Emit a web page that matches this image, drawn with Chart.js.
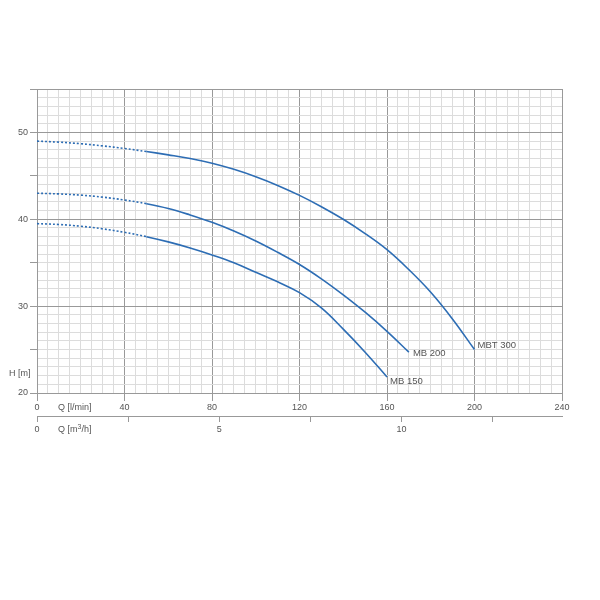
<!DOCTYPE html>
<html>
<head>
<meta charset="utf-8">
<script src="https://cdn.jsdelivr.net/npm/chart.js@4/dist/chart.umd.min.js"></script>
<style>
  html, body { margin: 0; padding: 0; background: #fff; }
  canvas { display: block; }
</style>
</head>
<body>
<canvas id="pumpChart" width="600" height="600"></canvas>
<script>
// pump curves, Q in l/min, H in m
const curveNames = ['MBT 300', 'MB 200', 'MB 150'];

const flowMBT300 = [0, 10, 20, 30, 40, 50, 60, 70, 80, 90, 100, 110, 120, 130, 140, 150, 160, 170, 180, 190, 200];
const headMBT300 = [49.0, 48.88, 48.7, 48.45, 48.15, 47.8, 47.42, 47.0, 46.45, 45.75, 44.9, 43.9, 42.75, 41.45, 40.0, 38.35, 36.5, 34.2, 31.6, 28.5, 25.0];

const flowMB200 = [0, 10, 20, 30, 40, 50, 60, 70, 80, 90, 100, 110, 120, 130, 140, 150, 160, 170];
const headMB200 = [43.0, 42.92, 42.78, 42.55, 42.22, 41.8, 41.25, 40.5, 39.65, 38.65, 37.5, 36.2, 34.8, 33.15, 31.3, 29.3, 27.1, 24.7];

const flowMB150 = [0, 10, 20, 30, 40, 50, 60, 70, 80, 90, 100, 110, 120, 130, 140, 150, 160];
const headMB150 = [39.5, 39.4, 39.2, 38.9, 38.5, 38.0, 37.4, 36.7, 35.9, 35.0, 33.9, 32.8, 31.55, 29.8, 27.35, 24.7, 21.85];

const dottedUntil = 50; // curves are dotted below this flow

// axes
const flowMin = 0, flowMax = 240, flowStep = 5, flowMajor = 40;
const headMin = 20, headMax = 55, headStep = 1, headMajor = 10, headTick = 5;
const m3hMax = flowMax * 60 / 1000, m3hStep = 2.5, m3hLabelEvery = 5;

const flows = [flowMBT300, flowMB200, flowMB150];
const heads = [headMBT300, headMB200, headMB150];

const lineBlue = '#2d6db4';
const majorGrid = '#999';
const minorGrid = '#dcdcdc';
const textGrey = '#555';
const clear = 'rgba(0,0,0,0)';
const fontFamily = '"Liberation Sans", Arial, sans-serif';

// where each name sits next to the end of its curve
const labelOffsets = [[3, -4], [4, 1], [3, 4]];

Chart.defaults.font.family = fontFamily;
Chart.defaults.font.size = 9;
Chart.defaults.color = textGrey;

const datasets = curveNames.map((name, i) => ({
  label: name,
  data: flows[i].map((q, j) => ({ x: q, y: heads[i][j] })),
  borderColor: lineBlue,
  borderWidth: 1.6,
  pointRadius: 0,
  fill: false,
  tension: 0.4,
  segment: {
    borderDash: ctx => ctx.p0.parsed.x < dottedUntil ? [2, 2] : undefined
  }
}));

const captions = {
  id: 'captions',
  afterDraw(chart) {
    const { ctx, scales: { x, x2, y } } = chart;
    ctx.save();
    ctx.fillStyle = textGrey;
    ctx.textBaseline = 'middle';
    ctx.font = '9px ' + fontFamily;

    ctx.fillText('H [m]', 9, y.getPixelForValue(22.2));
    ctx.fillText('Q [l/min]', x.left + 21, x.top + 14.5);

    let qx = x.left + 21, qy = x2.top + 14;
    ctx.fillText('Q [m', qx, qy);
    qx += ctx.measureText('Q [m').width;
    ctx.font = '7px ' + fontFamily;
    ctx.fillText('3', qx, qy - 3);
    qx += ctx.measureText('3').width;
    ctx.font = '9px ' + fontFamily;
    ctx.fillText('/h]', qx, qy);

    ctx.font = '9.5px ' + fontFamily;
    chart.data.datasets.forEach((ds, i) => {
      const pts = chart.getDatasetMeta(i).data;
      const end = pts[pts.length - 1];
      ctx.fillText(ds.label, end.x + labelOffsets[i][0], end.y + labelOffsets[i][1]);
    });
    ctx.restore();
  }
};

new Chart(document.getElementById('pumpChart'), {
  type: 'line',
  data: { datasets },
  plugins: [captions],
  options: {
    responsive: false,
    animation: false,
    layout: { padding: { top: 89, right: 38, bottom: 160, left: 0 } },
    plugins: { legend: { display: false }, tooltip: { enabled: false } },
    scales: {
      x: {
        type: 'linear',
        position: 'bottom',
        min: flowMin,
        max: flowMax,
        afterFit: s => { s.height = 23; },
        border: { display: true, color: majorGrid },
        grid: {
          color: c => (c.tick.value % flowMajor === 0 || c.tick.value === flowMax) ? majorGrid : minorGrid,
          tickColor: c => c.tick.value % flowMajor === 0 ? majorGrid : clear,
          tickLength: 8
        },
        ticks: {
          stepSize: flowStep,
          maxTicksLimit: 200,
          autoSkip: false,
          maxRotation: 0,
          includeBounds: false,
          padding: 1,
          callback: v => v % flowMajor === 0 ? v : ''
        }
      },
      x2: {
        type: 'linear',
        position: 'bottom',
        min: 0,
        max: m3hMax,
        afterFit: s => { s.height = 24; },
        border: { display: true, color: majorGrid },
        grid: { drawOnChartArea: false, color: majorGrid, tickLength: 6 },
        ticks: {
          stepSize: m3hStep,
          maxTicksLimit: 200,
          autoSkip: false,
          maxRotation: 0,
          includeBounds: false,
          padding: 2,
          callback: v => v % m3hLabelEvery === 0 ? v : ''
        }
      },
      y: {
        type: 'linear',
        min: headMin,
        max: headMax,
        afterFit: s => { s.width = 37; },
        border: { display: true, color: majorGrid },
        grid: {
          color: c => (c.tick.value % headMajor === 0 || c.tick.value === headMax) ? majorGrid : minorGrid,
          tickColor: c => c.tick.value % headTick === 0 ? majorGrid : clear,
          tickLength: 7
        },
        ticks: {
          stepSize: headStep,
          maxTicksLimit: 200,
          autoSkip: false,
          padding: 2,
          callback: v => v % headMajor === 0 ? v : ''
        }
      }
    }
  }
});
</script>
</body>
</html>
